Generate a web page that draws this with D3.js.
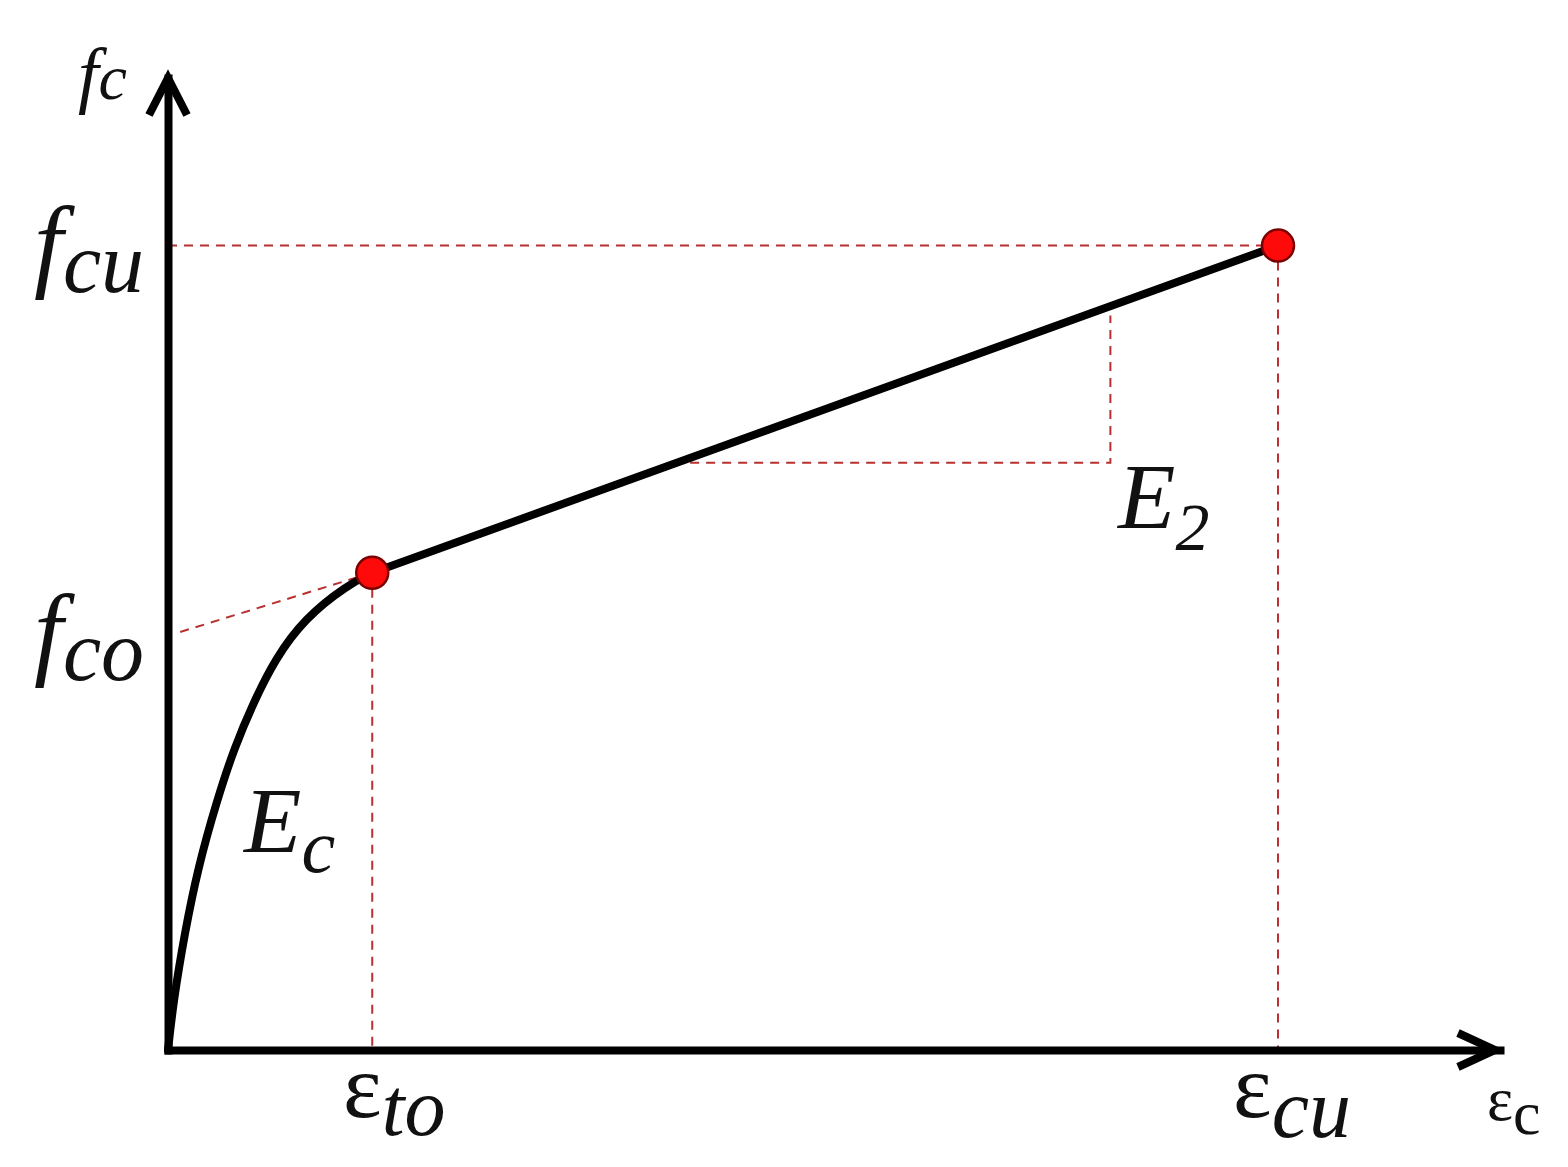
<!DOCTYPE html>
<html lang="en">
<head>
    <meta charset="UTF-8">
    <title>Stress-strain model</title>
    <script src="https://d3js.org/d3.v7.min.js"></script>
    <style>
        body { margin: 0; background: #fff; }
        text { font-family: "Liberation Serif", "DejaVu Serif", serif; fill: #111; }
    </style>
</head>
<body>
<svg id="chart"></svg>
<script>

    // strain (arbitrary units) and stress of the first, curved branch
    var curveStrain = [0, 0.05, 0.15, 0.27, 0.44, 0.60, 0.77, 0.96, 1.23, 1.62, 1.84];
    var curveStress = [0, 3.7, 8.7, 13.6, 18.6, 22.6, 25.9, 29.1, 32.2, 34.7, 35.6];

    // key points: transition point and ultimate point
    var pointNames = ["to", "cu"];
    var pointStrain = [1.84, 10];
    var pointStress = [35.6, 60];

    // intercept of the second branch on the stress axis
    var fco = 30.9;

    // slope triangle for E2 (corner strain, base stress)
    var triStrain = [4.56, 8.49];
    var triStress = 43.8;

    var width = 1568, height = 1167;

    var svg = d3.select("#chart")
            .attr("width", width)
            .attr("height", height);

    var x = d3.scaleLinear().domain([0, 12]).range([168, 1500]);
    var y = d3.scaleLinear().domain([0, 72.5]).range([1050, 78]);

    var red = "#b83030";

    // line of the second branch
    var slope = (pointStress[1] - pointStress[0]) / (pointStrain[1] - pointStrain[0]);
    var branch = function (e) { return pointStress[0] + slope * (e - pointStrain[0]); };

    // ---------- dashed guides ----------
    var guides = svg.append("g")
            .attr("fill", "none")
            .attr("stroke", red)
            .attr("stroke-width", 2)
            .attr("stroke-dasharray", "9,7");

    // ultimate point to the axes
    guides.append("line")
            .attr("x1", x(0)).attr("y1", y(pointStress[1]))
            .attr("x2", x(pointStrain[1])).attr("y2", y(pointStress[1]));
    guides.append("line")
            .attr("x1", x(pointStrain[1])).attr("y1", y(pointStress[1]))
            .attr("x2", x(pointStrain[1])).attr("y2", y(0));
    // transition point down to the strain axis
    guides.append("line")
            .attr("x1", x(pointStrain[0])).attr("y1", y(pointStress[0]))
            .attr("x2", x(pointStrain[0])).attr("y2", y(0));
    // extension of the second branch back to f_co
    var slopeT = (pointStress[0] - fco) / pointStrain[0];
    guides.append("line")
            .attr("x1", x(0.11)).attr("y1", y(fco + slopeT * 0.11))
            .attr("x2", x(pointStrain[0])).attr("y2", y(pointStress[0]));
    // E2 slope triangle
    guides.append("path")
            .attr("d", "M" + x(triStrain[0]) + "," + y(triStress) +
                    "L" + x(triStrain[1]) + "," + y(triStress) +
                    "L" + x(triStrain[1]) + "," + y(branch(triStrain[1]) - 0.7));

    // ---------- axes ----------
    var axisX = d3.axisBottom(x).tickValues([]).tickSizeOuter(0);
    var axisY = d3.axisLeft(y).tickValues([]).tickSizeOuter(0);

    svg.append("g").attr("class", "axis")
            .attr("transform", "translate(0," + y(0) + ")")
            .call(axisX);
    svg.append("g").attr("class", "axis")
            .attr("transform", "translate(" + x(0) + ",0)")
            .call(axisY);
    svg.selectAll(".axis .domain")
            .attr("stroke", "#000")
            .attr("stroke-width", 8)
            .attr("stroke-linecap", "square");

    // arrow heads
    var xEnd = x.range()[1] - 5, yEnd = y.range()[1];
    svg.append("path")
            .attr("d", "M" + (xEnd - 37) + "," + (y(0) - 17) + "L" + xEnd + "," + y(0) +
                    "L" + (xEnd - 37) + "," + (y(0) + 17))
            .attr("fill", "none").attr("stroke", "#000").attr("stroke-width", 8)
            .attr("stroke-linejoin", "miter");
    svg.append("path")
            .attr("d", "M" + (x(0) - 19) + "," + (yEnd + 37) + "L" + x(0) + "," + yEnd +
                    "L" + (x(0) + 19) + "," + (yEnd + 37))
            .attr("fill", "none").attr("stroke", "#000").attr("stroke-width", 8)
            .attr("stroke-linejoin", "miter");

    // ---------- stress-strain curve ----------
    var curvePts = curveStrain.map(function (e, i) { return [e, curveStress[i]]; });

    var line = d3.line()
            .x(function (d) { return x(d[0]); })
            .y(function (d) { return y(d[1]); })
            .curve(d3.curveBasis);

    svg.append("path")
            .datum(curvePts)
            .attr("d", line)
            .attr("fill", "none")
            .attr("stroke", "#000")
            .attr("stroke-width", 8)
            .attr("stroke-linecap", "round");

    svg.append("path")
            .datum([[pointStrain[0], pointStress[0]], [pointStrain[1], pointStress[1]]])
            .attr("d", d3.line().x(function (d) { return x(d[0]); }).y(function (d) { return y(d[1]); }))
            .attr("fill", "none")
            .attr("stroke", "#000")
            .attr("stroke-width", 8);

    // red points
    svg.selectAll(".pt")
            .data(pointNames)
            .enter().append("circle")
            .attr("class", "pt")
            .attr("cx", function (d, i) { return x(pointStrain[i]); })
            .attr("cy", function (d, i) { return y(pointStress[i]); })
            .attr("r", 16)
            .attr("fill", "#ff0a0a")
            .attr("stroke", "#7a0000")
            .attr("stroke-width", 2.5);

    // ---------- labels ----------
    var labels = [
        {main: "f", sub: "c",  x: 78,   y: 99,   fs: 74, ss: 64, dy: 0,  it: true},
        {main: "f", sub: "cu", x: 34,   y: 278,  fs: 104, ss: 86, dy: 14, it: true},
        {main: "f", sub: "co", x: 34,   y: 666,  fs: 104, ss: 86, dy: 14, it: true},
        {main: "E", sub: "c",  x: 244,  y: 852,  fs: 94, ss: 76, dy: 20, it: true},
        {main: "E", sub: "2",  x: 1118, y: 528,  fs: 94, ss: 68, dy: 22, it: true},
        {main: "\u03b5", sub: "to", x: 343, y: 1117, fs: 92, ss: 82, dy: 18, it: false},
        {main: "\u03b5", sub: "cu", x: 1233, y: 1117, fs: 92, ss: 84, dy: 20, it: false},
        {main: "\u03b5", sub: "c",  x: 1487, y: 1120, fs: 62, ss: 62, dy: 14, it: false}
    ];

    labels.forEach(function (l) {
        var t = svg.append("text")
                .attr("x", l.x)
                .attr("y", l.y);
        t.append("tspan")
                .attr("font-size", l.fs)
                .attr("font-style", l.it ? "italic" : "normal")
                .text(l.main);
        t.append("tspan")
                .attr("font-size", l.ss)
                .attr("font-style", l.fs < 70 ? "normal" : "italic")
                .attr("dy", l.dy)
                .text(l.sub);
    });
</script>
</body>
</html>
